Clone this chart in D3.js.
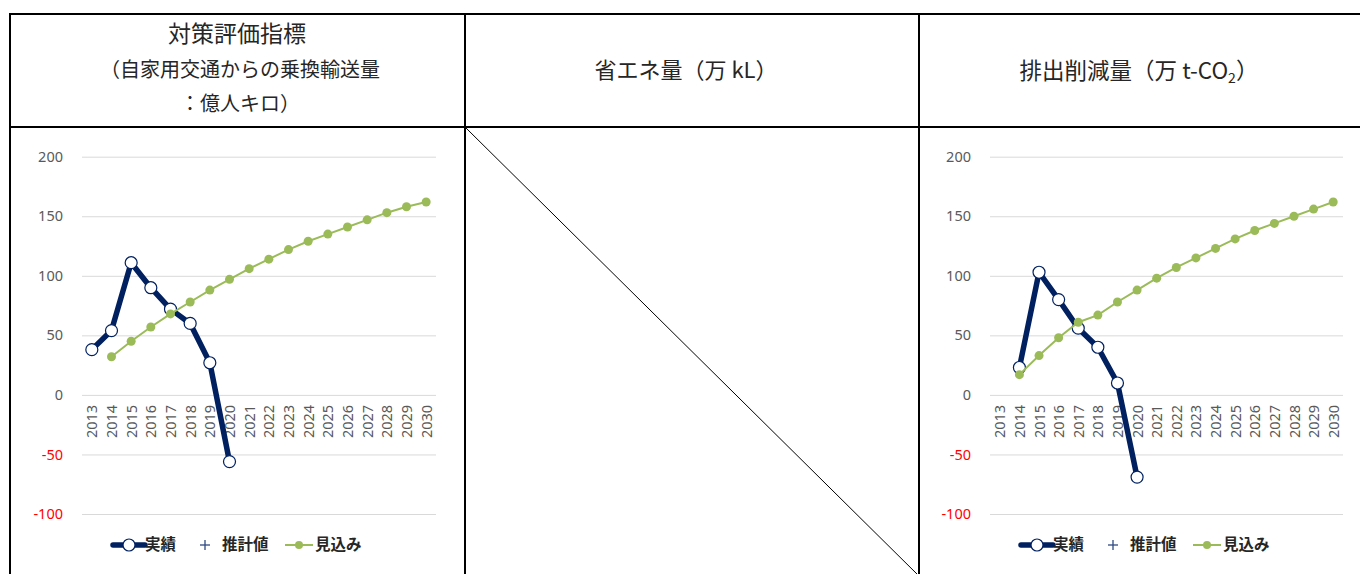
<!DOCTYPE html>
<html><head><meta charset="utf-8">
<script src="https://cdn.jsdelivr.net/npm/d3@7"></script>
<style>
html,body{margin:0;padding:0;background:#fff;}
svg{display:block;}
</style></head>
<body>
<svg id="c" width="1360" height="574"></svg>
<script>
// ---- data ----
const years = ["2013","2014","2015","2016","2017","2018","2019","2020","2021","2022","2023","2024","2025","2026","2027","2028","2029","2030"];
const yTicks = [-100,-50,0,50,100,150,200];
const seriesNames = ["実績","推計値","見込み"];
// left chart: 乗換輸送量 (億人キロ)
const leftActual   = [38,54,111,90,72,60,27,-56,null,null,null,null,null,null,null,null,null,null];
const leftEstimate = [null,null,null,null,null,null,null,null,null,null,null,null,null,null,null,null,null,null];
const leftForecast = [null,32,45,57,68,78,88,97,106,114,122,129,135,141,147,153,158,162];
// right chart: 排出削減量 (万 t-CO2)
const rightActual   = [null,23,103,80,56,40,10,-69,null,null,null,null,null,null,null,null,null,null];
const rightEstimate = [null,null,null,null,null,null,null,null,null,null,null,null,null,null,null,null,null,null];
const rightForecast = [null,17,33,48,61,67,78,88,98,107,115,123,131,138,144,150,156,162];

const svg = d3.select("#c");
const JP = "'Noto Sans CJK JP','Noto Sans',sans-serif";
const NUM = "'Noto Sans','DejaVu Sans',sans-serif";
const NAVY = "#002060", GREEN = "#9BBB59";

// ---- table frame ----
const frame = svg.append("g").attr("stroke","#000").attr("stroke-width",2);
frame.append("line").attr("x1",9).attr("x2",1362).attr("y1",14).attr("y2",14);
frame.append("line").attr("x1",9).attr("x2",1362).attr("y1",127).attr("y2",127);
[10,465,919].forEach(x=>frame.append("line").attr("x1",x).attr("x2",x).attr("y1",13).attr("y2",576));
svg.append("line").attr("x1",466).attr("y1",128).attr("x2",919).attr("y2",576)
   .attr("stroke","#000").attr("stroke-width",1);

// ---- headers ----
const hdr = svg.append("g").attr("font-family",JP).attr("fill","#262626").attr("text-anchor","middle");
hdr.append("text").attr("x",237).attr("y",42).attr("font-size",23).text("対策評価指標");
hdr.append("text").attr("x",240).attr("y",77).attr("font-size",20).text("（自家用交通からの乗換輸送量");
hdr.append("text").attr("x",240).attr("y",111).attr("font-size",20).text("：億人キロ）");
hdr.append("text").attr("x",686).attr("y",78).attr("font-size",22).text("省エネ量（万 kL）");
const rt = hdr.append("text").attr("x",1139).attr("y",79).attr("font-size",22.5);
rt.append("tspan").text("排出削減量（万 t-CO");
rt.append("tspan").attr("font-size",14).attr("dy",4).text("2");
rt.append("tspan").attr("dy",-4).text("）");

// ---- chart builder ----
const y = d3.scaleLinear().domain([-100,200]).range([514,156.7]);

function chart(x0, x1, actual, estimate, forecast){
  const g = svg.append("g");
  const x = d3.scalePoint().domain(years).range([x0,x1]).padding(0.5);
  // y axis + gridlines
  const ya = g.append("g").attr("transform",`translate(${x0},0)`)
    .call(d3.axisLeft(y).tickValues(yTicks).tickSize(-(x1-x0)).tickPadding(19).tickFormat(d=>String(d)));
  ya.select(".domain").remove();
  ya.selectAll("line").attr("stroke","#d9d9d9").attr("stroke-width",1);
  ya.selectAll("text").attr("font-family",NUM).attr("font-size",14.5)
    .attr("fill",d=>d<0?"#FF0000":"#595959");
  // x axis labels
  const xa = g.append("g").attr("transform",`translate(0,${y(0)})`)
    .call(d3.axisBottom(x).tickSize(0));
  xa.select(".domain").remove();
  xa.selectAll("text").attr("font-family",NUM).attr("font-size",14.5).attr("fill","#595959")
    .attr("transform","rotate(-90)").attr("x",-10).attr("y",0).attr("dy","0.35em")
    .style("text-anchor","end");
  // series
  const mk = arr => years.map((yr,i)=>({yr,v:arr[i]})).filter(d=>d.v!==null);
  const line = d3.line().x(d=>x(d.yr)).y(d=>y(d.v));
  const a = mk(actual);
  g.append("path").attr("d",line(a)).attr("fill","none").attr("stroke",NAVY)
    .attr("stroke-width",5.5).attr("stroke-linejoin","round");
  g.selectAll(".am").data(a).join("circle").attr("cx",d=>x(d.yr)).attr("cy",d=>y(d.v))
    .attr("r",6).attr("fill","#fff").attr("stroke",NAVY).attr("stroke-width",1.2);
  const e = mk(estimate);
  g.selectAll(".em").data(e).join("text").attr("x",d=>x(d.yr)).attr("y",d=>y(d.v))
    .attr("text-anchor","middle").attr("dy","0.35em").attr("fill",NAVY).text("+");
  const f = mk(forecast);
  g.append("path").attr("d",line(f)).attr("fill","none").attr("stroke",GREEN).attr("stroke-width",2);
  g.selectAll(".fm").data(f).join("circle").attr("cx",d=>x(d.yr)).attr("cy",d=>y(d.v))
    .attr("r",4.5).attr("fill",GREEN);
  // legend
  const L = g.append("g").attr("transform",`translate(${x0+31},545)`);
  L.append("line").attr("x1",0).attr("x2",32).attr("stroke",NAVY).attr("stroke-width",5.5).attr("stroke-linecap","round");
  L.append("circle").attr("cx",16).attr("r",6).attr("fill","#fff").attr("stroke",NAVY).attr("stroke-width",1.2);
  L.append("text").attr("x",32).attr("dy","0.35em").attr("font-family",JP).attr("font-size",15.5)
    .attr("font-weight","bold").attr("fill","#262626").text(seriesNames[0]);
  L.append("line").attr("x1",87).attr("x2",97).attr("stroke","#2F4A80").attr("stroke-width",1.3);
  L.append("line").attr("x1",92).attr("x2",92).attr("y1",-5).attr("y2",5).attr("stroke","#2F4A80").attr("stroke-width",1.3);
  L.append("text").attr("x",109).attr("dy","0.35em").attr("font-family",JP).attr("font-size",15.5)
    .attr("font-weight","bold").attr("fill","#262626").text(seriesNames[1]);
  L.append("line").attr("x1",172).attr("x2",200).attr("stroke",GREEN).attr("stroke-width",2);
  L.append("circle").attr("cx",186).attr("r",4).attr("fill",GREEN);
  L.append("text").attr("x",202).attr("dy","0.35em").attr("font-family",JP).attr("font-size",15.5)
    .attr("font-weight","bold").attr("fill","#262626").text(seriesNames[2]);
}

chart(82, 436, leftActual, leftEstimate, leftForecast);
chart(990, 1343, rightActual, rightEstimate, rightForecast);
</script>
</body></html>
